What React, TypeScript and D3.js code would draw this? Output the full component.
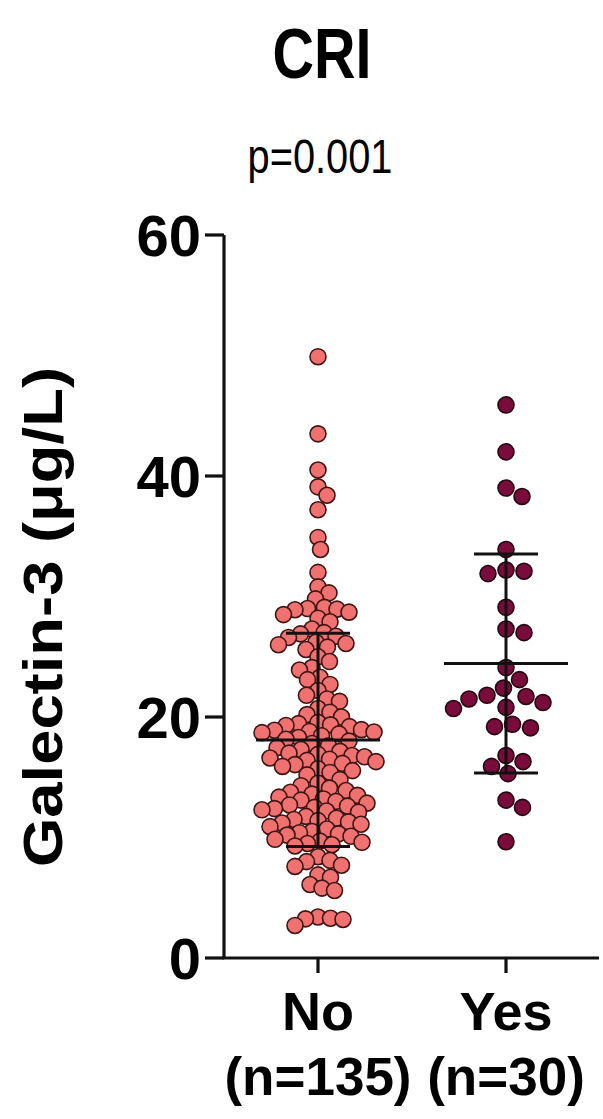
import React from 'react';
import * as d3 from 'd3';

const groups = ['No', 'Yes'];
const groupCounts = ['(n=135)', '(n=30)'];
const yTicks = [0, 20, 40, 60];
const titleText = 'CRI';
const pText = 'p=0.001';
const yLabelText = 'Galectin-3 (μg/L)';

const noValues = [
  49.9, 43.5, 40.5, 39.1, 38.4, 37.2, 34.9, 33.9, 32.0,
  30.8, 30.3,
  29.8, 29.1, 29.0, 28.95, 28.9, 28.7, 28.5, 28.2,
  27.9, 27.3, 27.0, 26.9,
  26.7, 26.6, 26.2, 26.1, 26.0, 25.8, 25.6,
  25.0, 24.6, 24.1, 23.9,
  23.3, 23.1, 22.7, 22.2,
  21.8, 21.5, 21.3, 20.7, 20.4, 20.2, 20.0,
  19.2, 19.3, 19.35, 19.45, 19.55,
  18.6, 18.7, 18.75, 18.8, 18.9, 18.95,
  18.0, 18.15, 18.3, 18.45,
  17.0, 17.15, 17.3, 17.45, 17.6, 17.8,
  16.05, 16.15, 16.3, 16.4, 16.5, 16.6, 16.7, 16.8, 16.9,
  15.2, 15.4, 15.55, 15.7, 15.9,
  14.1, 14.3, 14.5, 14.8,
  13.0, 13.1, 13.2, 13.35, 13.5, 13.6, 13.75, 13.9,
  12.1, 12.2, 12.3, 12.4, 12.5, 12.6, 12.7, 12.85,
  11.1, 11.2, 11.3, 11.4, 11.5, 11.6, 11.75,
  10.1, 10.2, 10.3, 10.4, 10.5, 10.7, 10.9,
  9.3, 9.4, 9.5, 9.6, 9.7, 9.85,
  8.4, 8.1, 8.0, 7.7, 7.6,
  6.9, 6.7, 6.1, 5.8, 5.6,
  3.4, 3.3, 3.25, 3.2, 2.7,
];

const yesValues = [
  45.9, 42.0, 39.0, 38.3, 33.9, 31.9, 32.2, 32.1, 29.1, 27.3,
  27.0, 24.1, 23.1, 22.4, 21.7, 21.2, 21.5, 21.8, 20.7, 20.8,
  19.4, 19.1, 19.2, 16.8, 16.3, 15.9, 15.3, 13.1, 12.5, 9.65,
];

const groupValues = [noValues, yesValues];
const groupFill = ['#f07270', '#7a0c3c'];
const groupStroke = ['#3f1414', '#240510'];
const groupMinDist = [12.3, 18];

const W = 603;
const H = 1119;
const font = '"Liberation Sans", Arial, Helvetica, sans-serif';

type Pt = { dx: number; y: number; v: number };

function swarm(values: number[], yScale: (v: number) => number, minDist: number): Pt[] {
  const placed: Pt[] = [];
  const sorted = values.slice().sort((a, b) => b - a);
  for (const v of sorted) {
    const py = yScale(v);
    let off = 0;
    for (let k = 0; k < 2000; k++) {
      const cand = k === 0 ? 0 : (k % 2 ? 1 : -1) * Math.ceil(k / 2) * 0.5;
      if (placed.every((p) => (p.dx - cand) ** 2 + (p.y - py) ** 2 >= minDist * minDist)) {
        off = cand;
        break;
      }
    }
    placed.push({ dx: off, y: py, v });
  }
  return placed;
}

export default function App() {
  const y = d3.scaleLinear().domain([0, 60]).range([958, 235]);
  const x = d3.scalePoint<string>().domain(groups).range([224, 600]).padding(0.5);
  const axisX0 = 224;
  const axisX1 = 599;
  const r = 8;

  return (
    <svg width={W} height={H} style={{ position: 'absolute', left: 0, top: 0, background: '#fff' }}>
      <text x={322} y={78} textAnchor="middle" fontFamily={font} fontWeight="bold" fontSize={70}
        textLength={99} lengthAdjust="spacingAndGlyphs">{titleText}</text>
      <text x={320} y={173} textAnchor="middle" fontFamily={font} fontSize={49}
        textLength={145} lengthAdjust="spacingAndGlyphs">{pText}</text>

      <text transform={`translate(62,617) rotate(-90)`} textAnchor="middle" fontFamily={font}
        fontWeight="bold" fontSize={56} textLength={500} lengthAdjust="spacingAndGlyphs">{yLabelText}</text>

      {/* y axis */}
      <line x1={axisX0} x2={axisX0} y1={y(60)} y2={y(0)} stroke="#111" strokeWidth={3.2} />
      {yTicks.map((t) => (
        <g key={t}>
          <line x1={axisX0 - 19} x2={axisX0} y1={y(t)} y2={y(t)} stroke="#111" strokeWidth={3.2} />
          <text x={201} y={y(t)} dy="0.36em" textAnchor="end" fontFamily={font} fontWeight="bold"
            fontSize={58}>{t}</text>
        </g>
      ))}

      {/* x axis */}
      <line x1={axisX0 - 1.6} x2={axisX1} y1={y(0)} y2={y(0)} stroke="#111" strokeWidth={3.2} />
      {groups.map((g, i) => (
        <g key={g}>
          <line x1={x(g)} x2={x(g)} y1={y(0)} y2={y(0) + 15} stroke="#111" strokeWidth={3.2} />
          <text x={x(g)} y={1030} textAnchor="middle" fontFamily={font} fontWeight="bold" fontSize={54}>{g}</text>
          <text x={x(g)} y={1095} textAnchor="middle" fontFamily={font} fontWeight="bold" fontSize={53}>{groupCounts[i]}</text>
        </g>
      ))}

      {groups.map((g, i) => {
        const vals = groupValues[i];
        const cx = x(g) as number;
        const pts = swarm(vals, y, groupMinDist[i]);
        const m = d3.mean(vals) as number;
        const sd = d3.deviation(vals) as number;
        return (
          <g key={g}>
            {pts.map((p, j) => (
              <circle key={j} cx={cx + p.dx} cy={p.y} r={r} fill={groupFill[i]} stroke={groupStroke[i]} strokeWidth={1.6} />
            ))}
            <line x1={cx - 62} x2={cx + 62} y1={y(m)} y2={y(m)} stroke="#111" strokeWidth={3} />
            <line x1={cx} x2={cx} y1={y(m + sd)} y2={y(m - sd)} stroke="#111" strokeWidth={3} />
            <line x1={cx - 32} x2={cx + 32} y1={y(m + sd)} y2={y(m + sd)} stroke="#111" strokeWidth={3} />
            <line x1={cx - 32} x2={cx + 32} y1={y(m - sd)} y2={y(m - sd)} stroke="#111" strokeWidth={3} />
          </g>
        );
      })}
    </svg>
  );
}
